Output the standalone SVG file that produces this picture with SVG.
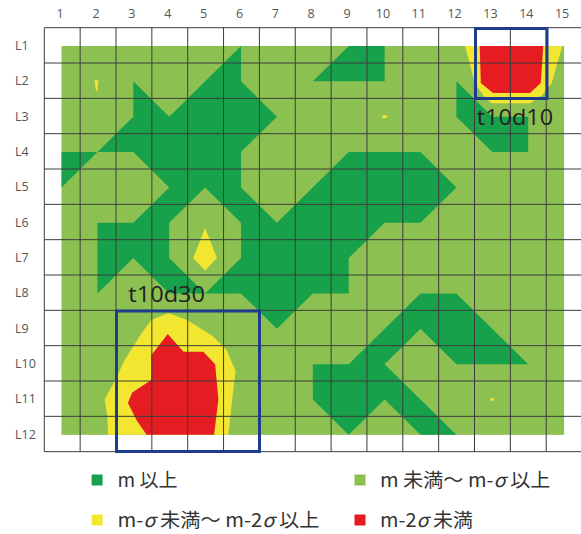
<svg xmlns="http://www.w3.org/2000/svg" width="581" height="534" viewBox="0 0 581 534">
<style>
.dg{fill:#17a14b}
.lg{fill:#8cc152}
.yl{fill:#f2e630}
.rd{fill:#e51d23}
.grid{fill:none;stroke:#3c3c3c;stroke-width:1}
.box{fill:none;stroke:#1f3b8c;stroke-width:3}
.ax{font-family:"Open Sans","Noto Sans",sans-serif;font-size:12.5px;fill:#555}
.lab{font-family:"Open Sans","Noto Sans",sans-serif;font-size:22px;fill:#222}
.leg{font-family:"Noto Sans CJK JP","Noto Sans",sans-serif;font-size:19px;fill:#333}
</style>
<rect width="581" height="534" fill="#ffffff"/>
<g id="map">
<g transform="translate(61.5,46) scale(35.9,35.35)">
<rect class="lg" x="0" y="0" width="14" height="11"/>
<polygon class="dg" points="5,0 5,1 6,2 5,3 5,4 6,5 8,3 10,3 11,4 10,5 9,5 8,6 8,7 7,7 6,8 5,7 4,7 3,7 2,6 1,7 1,5 2,5 3,4 2,3 1,3 0,4 0,3 1,3 2,2 2,1 3,2"/>
<polygon class="lg" points="4,4 5,5 5,6 4,7 3,6 3,5"/>
<polygon class="yl" points="4,5.15 4.33,6 4,6.35 3.67,6"/>
<polygon class="dg" points="7,1 8,0 9,0 9,1"/>
<polygon class="dg" points="11,1 12,2 13,2 13,3 12,3 11,2"/>
<polygon class="dg" points="7,9 8,9 10,7 11,7 13,9 11,9 10,8 9,9 11,11 10,11 9,10 8,11 7,10"/>
<polygon class="yl" points="11.24,0 13.95,0 13.65,1.06 13.38,1.4 13.05,1.62 11.98,1.62 11.75,1.4 11.52,1.06"/>
<polygon class="rd" points="11.65,0 13.42,0 13.35,1.05 13.05,1.33 12.02,1.33 11.68,1.05"/>
<polygon class="yl" points="2.98,7.55 3.5,7.75 4.2,8.2 4.6,8.6 4.85,9.2 4.8,9.6 4.7,10.5 4.65,11 1.3,11 1.27,10.4 1.2,10 1.5,9.45 1.75,8.9 2.25,8.1 2.5,7.75"/>
<polygon class="rd" points="2.96,8.15 3.4,8.65 3.95,8.65 4.28,9 4.37,10 4.25,11 2.37,11 2.1,10.6 1.85,10.1 1.97,9.8 2.5,9.45 2.5,8.75"/>
</g>
<polygon class="yl" points="94.5,80 98.5,80.5 97,92 95.8,90"/>
<ellipse class="yl" cx="384.6" cy="116.7" rx="2.5" ry="1.6"/>
<ellipse class="yl" cx="492.3" cy="399.5" rx="2" ry="1.5"/>
</g>
<g id="grid">
<path class="grid" d="M44.3,27.7V451.7M80.15,27.7V451.7M116,27.7V451.7M151.85,27.7V451.7M187.7,27.7V451.7M223.55,27.7V451.7M259.4,27.7V451.7M295.25,27.7V451.7M331.1,27.7V451.7M366.95,27.7V451.7M402.8,27.7V451.7M438.65,27.7V451.7M474.5,27.7V451.7M510.35,27.7V451.7M546.2,27.7V451.7M44.3,27.7H581M44.3,63.03H581M44.3,98.36H581M44.3,133.69H581M44.3,169.02H581M44.3,204.35H581M44.3,239.68H581M44.3,275.01H581M44.3,310.34H581M44.3,345.67H581M44.3,381H581M44.3,416.33H581M44.3,451.66H581"/>
</g>
<g id="axis-labels" class="ax">
<g text-anchor="middle">
<text x="60.2" y="18">1</text>
<text x="96.1" y="18">2</text>
<text x="131.9" y="18">3</text>
<text x="167.8" y="18">4</text>
<text x="203.6" y="18">5</text>
<text x="239.5" y="18">6</text>
<text x="275.3" y="18">7</text>
<text x="311.2" y="18">8</text>
<text x="347" y="18">9</text>
<text x="382.9" y="18">10</text>
<text x="418.7" y="18">11</text>
<text x="454.6" y="18">12</text>
<text x="490.4" y="18">13</text>
<text x="526.3" y="18">14</text>
<text x="562.1" y="18">15</text>
</g>
<text x="15" y="49.9">L1</text>
<text x="15" y="85.2">L2</text>
<text x="15" y="120.5">L3</text>
<text x="15" y="155.9">L4</text>
<text x="15" y="191.2">L5</text>
<text x="15" y="226.5">L6</text>
<text x="15" y="261.9">L7</text>
<text x="15" y="297.2">L8</text>
<text x="15" y="332.5">L9</text>
<text x="15" y="367.8">L10</text>
<text x="15" y="403.2">L11</text>
<text x="15" y="438.5">L12</text>
</g>
<g id="box-t10d10">
<rect class="box" x="475.5" y="28.5" width="71.5" height="70"/>
<text class="lab" x="476.7" y="125" textLength="76.6" lengthAdjust="spacingAndGlyphs">t10d10</text>
</g>
<g id="box-t10d30">
<rect class="box" x="116.5" y="311" width="143" height="140.5"/>
<text class="lab" x="128.3" y="302" textLength="76.7" lengthAdjust="spacingAndGlyphs">t10d30</text>
</g>
<g id="legend">
<rect class="dg" x="91.6" y="474.5" width="11" height="11"/>
<text class="leg" x="117.5" y="487" textLength="60" lengthAdjust="spacingAndGlyphs">m 以上</text>
<rect class="lg" x="354.5" y="474.5" width="11" height="11"/>
<text class="leg" x="380" y="487" textLength="170.5" lengthAdjust="spacingAndGlyphs">m 未満～ m-<tspan font-style="italic">σ</tspan> 以上</text>
<rect class="yl" x="91.6" y="514.5" width="11" height="11"/>
<text class="leg" x="117.5" y="527" textLength="202" lengthAdjust="spacingAndGlyphs">m-<tspan font-style="italic">σ</tspan> 未満～ m-2<tspan font-style="italic">σ</tspan> 以上</text>
<rect class="rd" x="354.5" y="514.5" width="11" height="11"/>
<text class="leg" x="380" y="527" textLength="93" lengthAdjust="spacingAndGlyphs">m-2<tspan font-style="italic">σ</tspan> 未満</text>
</g>
</svg>
